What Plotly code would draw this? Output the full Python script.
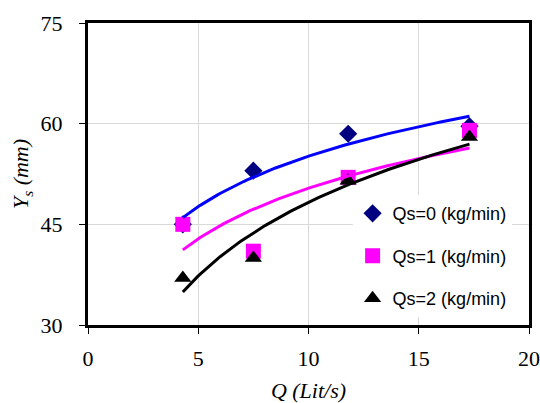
import numpy as np
import plotly.graph_objects as go

Q = [4.3, 7.5, 11.8, 17.3]
ys_qs0 = [45.0, 53.0, 58.5, 59.6]
ys_qs1 = [45.0, 41.0, 52.0, 59.0]
ys_qs2 = [37.0, 40.0, 51.5, 58.0]
names = ["Qs=0 (kg/min)", "Qs=1 (kg/min)", "Qs=2 (kg/min)"]

series = [ys_qs0, ys_qs1, ys_qs2]
marker_colors = ["#000080", "#FF00FF", "#000000"]
line_colors = ["#0000FF", "#FF00FF", "#000000"]
symbols = ["diamond", "square", "triangle-up"]
sizes = [14, 15, 15]

fig = go.Figure()
xq = np.array(Q)
xfit = np.linspace(xq.min(), xq.max(), 100)
for i, ys in enumerate(series):
    fig.add_trace(go.Scatter(
        x=Q, y=ys, mode="markers", name=names[i], legendgroup=str(i),
        marker=dict(symbol=symbols[i], color=marker_colors[i], size=sizes[i], line=dict(width=0)),
    ))
for i, ys in enumerate(series):
    b, a = np.polyfit(np.log(xq), np.array(ys), 1)
    fig.add_trace(go.Scatter(
        x=xfit, y=a + b * np.log(xfit), mode="lines", showlegend=False,
        line=dict(color=line_colors[i], width=3), hoverinfo="skip",
    ))

axis_common = dict(
    showline=True, linewidth=3, linecolor="black", mirror=True,
    showgrid=True, gridcolor="#D9D9D9", gridwidth=1,
    ticks="outside", ticklen=6, tickwidth=1, tickcolor="black",
    zeroline=False, automargin=False,
    tickfont=dict(family="Liberation Serif", size=22, color="black"),
)
fig.update_xaxes(range=[0, 20], dtick=5, tick0=0, ticklabelstandoff=6,
                 title=dict(text="<i>Q (Lit/s)</i>", font=dict(family="Liberation Serif", size=22, color="black"), standoff=18),
                 **axis_common)
fig.update_yaxes(range=[30, 75], dtick=15, tick0=30, ticklabelstandoff=12,
                 title=dict(text="<i>Y<sub>s</sub> (mm)</i>", font=dict(family="Liberation Serif", size=22, color="black"), standoff=6),
                 **axis_common)

fig.update_layout(
    width=540, height=403,
    margin=dict(l=88, r=11, t=23, b=78, autoexpand=False),
    paper_bgcolor="white", plot_bgcolor="white",
    legend=dict(x=0.60, y=0.026, xanchor="left", yanchor="bottom",
                bgcolor="white", borderwidth=0, traceorder="grouped", tracegroupgap=16,
                font=dict(family="Liberation Sans", size=18, color="black")),
)
fig.write_html("out.html")
